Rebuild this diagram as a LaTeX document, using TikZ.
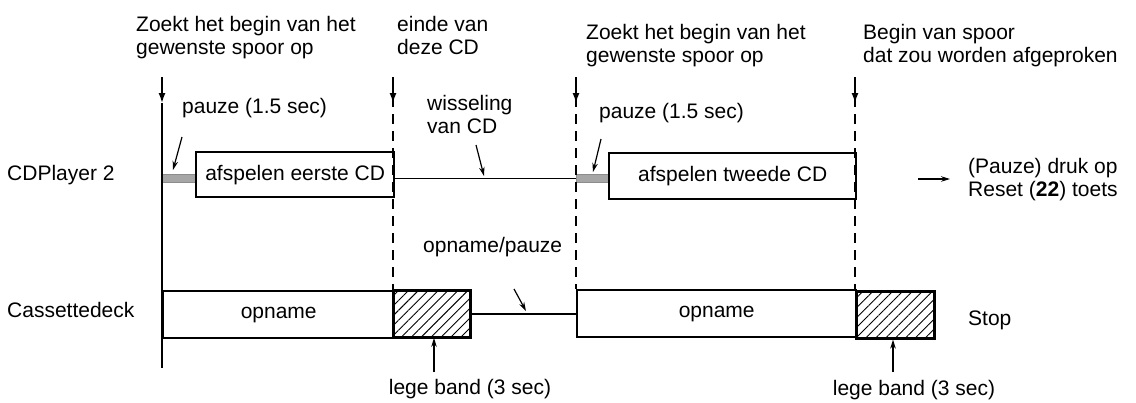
\documentclass[tikz,border=0pt]{standalone}
\usepackage{fontspec}
\setmainfont{Liberation Sans}
\usetikzlibrary{arrows.meta,patterns.meta}

\begin{document}
\begin{tikzpicture}[x=1pt,y=-1pt,
  lbl/.style={inner sep=0pt, font=\fontsize{21}{23}\selectfont, align=left},
  bar/.style={draw, line width=2.4pt, fill=white, inner sep=0pt, anchor=north west,
              font=\fontsize{21}{23}\selectfont},
  hatchbar/.style={draw, line width=2.6pt, inner sep=0pt, anchor=north west,
              pattern={Lines[angle=45,distance=7pt,line width=0.9pt]}},
  pausebar/.style={fill=gray!70, draw=gray!90, line width=0.4pt, inner sep=0pt, anchor=north west},
  conn/.style={line width=1.3pt},
  guide/.style={line width=1.5pt},
  dguide/.style={line width=1.5pt, dash pattern=on 10pt off 7pt},
  tip/.style={-{Latex[length=10pt,width=7pt]}, line width=1.5pt},
  ptr/.style={-{Stealth[length=9pt,width=5.5pt]}, line width=1.2pt},
]
\useasboundingbox (0,0) rectangle (1136,402);

% CD player bars
\node[pausebar, minimum width=33, minimum height=8] (p1) at (162,174) {};
\node[bar, minimum width=198, minimum height=45] (cd1) at (195,151) {afspelen eerste CD};
\node[pausebar, minimum width=32, minimum height=8] (p2) at (576,174) {};
\node[bar, minimum width=247, minimum height=46] (cd2) at (608,152) {afspelen tweede CD};

% cassette deck bars
\node[bar, minimum width=231, minimum height=47] (tp1) at (162,290) {opname};
\node[hatchbar, minimum width=77, minimum height=47] (tp1h) at (393,290) {};
\node[bar, minimum width=279, minimum height=47] (tp2) at (576,289) {opname};
\node[hatchbar, minimum width=78, minimum height=47] (tp2h) at (855,290) {};

% connecting lines between bars
\draw[conn] (cd1.east |- p2.west) -- (p2.west);
\draw[conn] (tp1h.east) -- (tp1h.east -| tp2.west);

% time markers
\coordinate (g1a) at (162,77);  \coordinate (g1b) at (162,103); \coordinate (g1c) at (162,368);
\coordinate (g2a) at (393,77);  \coordinate (g2b) at (393,103);
\coordinate (g3a) at (576,77);  \coordinate (g3b) at (576,103);
\coordinate (g4a) at (855,77);  \coordinate (g4b) at (855,103);
\draw[tip] (g1a) -- (g1b);
\draw[guide] (g1b) -- (g1c);
\draw[tip] (g2a) -- (g2b);
\draw[dguide] ([yshift=6pt]g2b) -- (tp1h.north west);
\draw[tip] (g3a) -- (g3b);
\draw[dguide] ([yshift=6pt]g3b) -- (tp2.north west);
\draw[tip] (g4a) -- (g4b);
\draw[dguide] ([yshift=6pt]g4b) -- (tp2h.north west);

% labels above the markers
\node[lbl, anchor=north west] (t1) at (136,16) {Zoekt het begin van het\\gewenste spoor op};
\node[lbl, anchor=north west] (t2) at (397,16) {einde van\\deze CD};
\node[lbl, anchor=north west] (t3) at (586,24) {Zoekt het begin van het\\gewenste spoor op};
\node[lbl, anchor=north west] (t4) at (863,24) {Begin van spoor\\dat zou worden afgeproken};

% row labels
\node[lbl, anchor=base west] (r1) at (7,180) {CDPlayer 2};
\node[lbl, anchor=base west] (r2) at (7,317) {Cassettedeck};

% pause annotations
\node[lbl, anchor=base west] (pz1) at (182,113) {pauze (1.5 sec)};
\coordinate (pz1a) at (182,137); \coordinate (pz1b) at (173,170);
\draw[ptr] (pz1a) -- (pz1b);
\node[lbl, anchor=base west] (pz2) at (599,118) {pauze (1.5 sec)};
\coordinate (pz2a) at (601,139); \coordinate (pz2b) at (593,172);
\draw[ptr] (pz2a) -- (pz2b);

% change of disc
\node[lbl, anchor=north west] (ws) at (427,95) {wisseling\\van CD};
\coordinate (wsa) at (476,145); \coordinate (wsb) at (484,176);
\draw[ptr] (wsa) -- (wsb);

% record/pause
\node[lbl, anchor=base west] (op) at (423,252) {opname/pauze};
\coordinate (opa) at (514,289); \coordinate (opb) at (526,311);
\draw[ptr] (opa) -- (opb);

% right-hand notes
\coordinate (rsa) at (918,179); \coordinate (rsb) at (950,179);
\draw[ptr] (rsa) -- (rsb);
\node[lbl, anchor=north west] (rs) at (968,158) {(Pauze) druk op\\Reset (\textbf{22}) toets};
\node[lbl, anchor=base west] (st) at (968,325) {Stop};

% blank tape notes
\node[lbl, anchor=base] (lb1) at (470,394) {lege band (3 sec)};
\node[lbl, anchor=base] (lb2) at (914,395) {lege band (3 sec)};
\coordinate (lb1a) at (434,372); \coordinate (lb2a) at (893,372);
\draw[ptr] (lb1a) -- (lb1a |- tp1h.south);
\draw[ptr] (lb2a) -- (lb2a |- tp2h.south);
\end{tikzpicture}
\end{document}
